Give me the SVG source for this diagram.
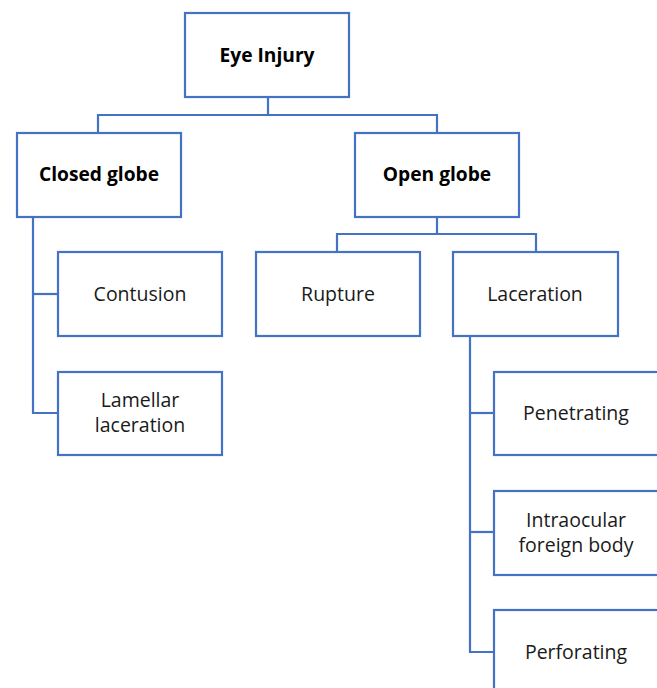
<svg xmlns="http://www.w3.org/2000/svg" width="657" height="688" viewBox="0 0 657 688">
<style>
.box{fill:#fff;stroke:#4472C4;stroke-width:2.2}
.ln{fill:none;stroke:#4472C4;stroke-width:2.2}
text{font-family:"Open Sans","Noto Sans","Liberation Sans",sans-serif;font-size:19.5px;fill:#1a1a1a;text-anchor:middle}
.b{font-weight:bold;font-size:19.2px;fill:#000}
</style>
<rect width="657" height="688" fill="#fff"/>
<g id="connectors">
<polyline class="ln" points="268,97 268,115"/>
<polyline class="ln" points="98,133 98,115 437,115 437,133"/>
<polyline class="ln" points="437,217 437,234"/>
<polyline class="ln" points="337,252 337,234 536,234 536,252"/>
<polyline class="ln" points="33,217 33,413 58,413"/>
<polyline class="ln" points="33,294 58,294"/>
<polyline class="ln" points="470,336 470,652 494,652"/>
<polyline class="ln" points="470,413 494,413"/>
<polyline class="ln" points="470,532 494,532"/>
</g>
<g id="eye-injury"><rect class="box" x="185" y="13" width="164" height="84"/><text class="b" x="267" y="62">Eye Injury</text></g>
<g id="closed-globe"><rect class="box" x="17" y="133" width="164" height="84"/><text class="b" x="99" y="181">Closed globe</text></g>
<g id="open-globe"><rect class="box" x="355" y="133" width="164" height="84"/><text class="b" x="437" y="181">Open globe</text></g>
<g id="contusion"><rect class="box" x="58" y="252" width="164" height="84"/><text x="140" y="301">Contusion</text></g>
<g id="lamellar-laceration"><rect class="box" x="58" y="372" width="164" height="83"/><text x="140" y="407">Lamellar</text><text x="140" y="432">laceration</text></g>
<g id="rupture"><rect class="box" x="256" y="252" width="164" height="84"/><text x="338" y="301">Rupture</text></g>
<g id="laceration"><rect class="box" x="453" y="252" width="165" height="84"/><text x="535" y="301">Laceration</text></g>
<g id="penetrating"><rect class="box" x="494" y="372" width="165" height="83"/><text x="576" y="420">Penetrating</text></g>
<g id="intraocular-foreign-body"><rect class="box" x="494" y="491" width="165" height="84"/><text x="576" y="527">Intraocular</text><text x="576" y="552">foreign body</text></g>
<g id="perforating"><rect class="box" x="494" y="610" width="165" height="84"/><text x="576" y="659">Perforating</text></g>
</svg>
